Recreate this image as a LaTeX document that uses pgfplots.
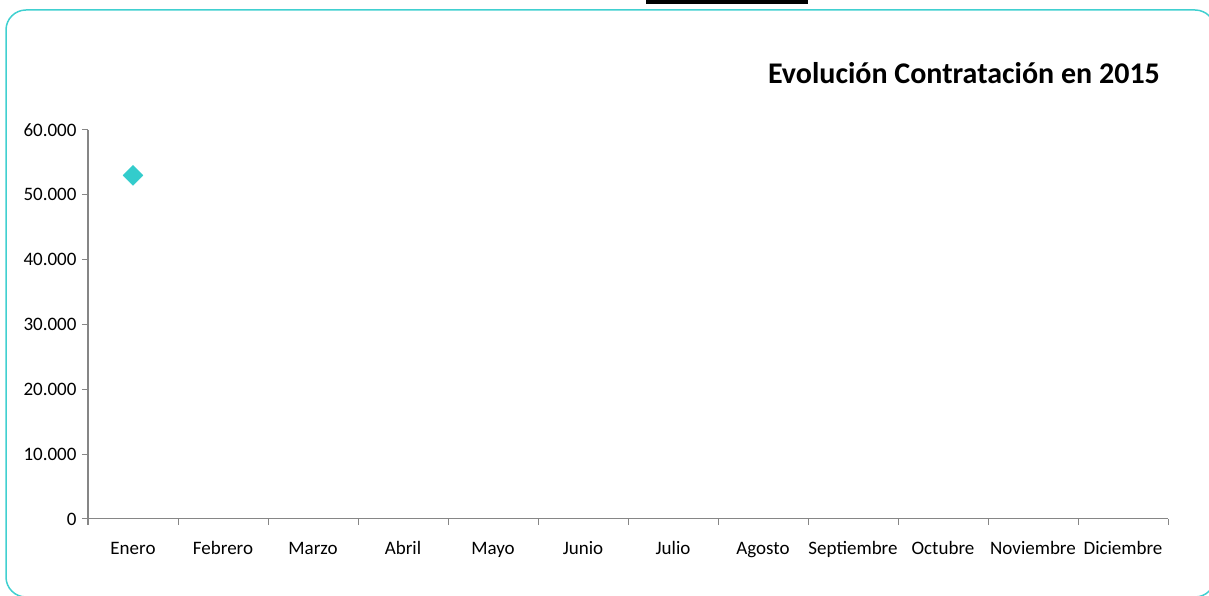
\documentclass[border=0pt]{standalone}
\usepackage{pgfplots}
\pgfplotsset{compat=1.18}
\usepackage{fontspec}
\setmainfont{Carlito}
\definecolor{turq}{RGB}{51,204,204}
\definecolor{bord}{RGB}{64,208,208}
\definecolor{axgray}{RGB}{134,134,134}
\begin{document}
\begin{tikzpicture}[x=1pt,y=1pt]
\useasboundingbox (0,0) rectangle (1209,596);
\begin{scope}
\clip (0,0) rectangle (1209,596);
\draw[bord, line width=1.5pt, rounded corners=20pt] (6,-1) rectangle (1215,586);
\fill[black] (646,592) rectangle (808,597);
\end{scope}
\node[anchor=east, inner sep=0pt, font=\fontsize{30}{33}\selectfont\bfseries] at (1160,523) {Evolución Contratación en 2015};
\begin{axis}[
  at={(88pt,77pt)}, anchor=south west,
  width=1080pt, height=389pt, scale only axis,
  xmin=0, xmax=12, ymin=0, ymax=60000,
  scaled y ticks=false,
  axis x line=bottom, axis y line=left,
  axis line style={axgray, line width=1pt, -},
  xtick={0,1,...,12},
  x tick label as interval,
  xticklabels={Enero,Febrero,Marzo,Abril,Mayo,Junio,Julio,Agosto,Septiembre,Octubre,Noviembre,Diciembre},
  ytick={0,10000,20000,30000,40000,50000,60000},
  yticklabels={0,10.000,20.000,30.000,40.000,50.000,60.000},
  tick align=outside, major tick length=6pt,
  tick style={axgray, line width=1pt},
  ticklabel style={font=\fontsize{19}{22}\selectfont, text=black},
  xticklabel style={anchor=base, yshift=-30pt},
  yticklabel style={anchor=east, xshift=-2pt},
  clip=false,
]
\addplot[only marks, mark=square*, mark size=7pt, mark options={rotate=45, fill=turq, draw=turq}] coordinates {(0.5,53000)};
\end{axis}
\end{tikzpicture}
\end{document}
